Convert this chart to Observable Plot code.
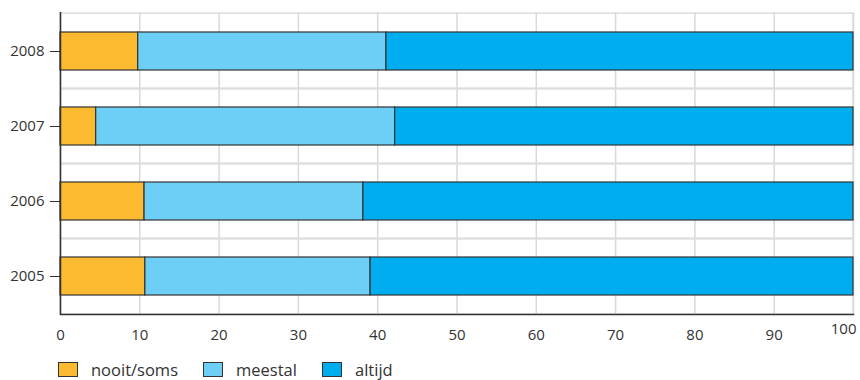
<!DOCTYPE html>
<html><head><meta charset="utf-8">
<script src="https://cdn.jsdelivr.net/npm/d3@7"></script>
<script src="https://cdn.jsdelivr.net/npm/@observablehq/plot@0.6"></script>
<style>
body{margin:0;background:#fff;font-family:"Open Sans",Lato,sans-serif;color:#333;}
#chart svg{overflow:visible;}
.legend{position:relative;height:24px;margin-top:8px;font-size:16.5px;color:#333;}
.legend .item{position:absolute;top:0;display:flex;align-items:center;}
.legend .sw{width:18px;height:13px;border:1px solid #333;margin-right:13px;}
</style></head>
<body>
<div id="chart"></div>
<div class="legend" id="legend"></div>
<script>
const years = ["2008","2007","2006","2005"];
const series = ["nooit/soms","meestal","altijd"];
const colors = ["#fbba30","#6dcff6","#00aeef"];
const nooit = [9.8, 4.5, 10.6, 10.7];
const meestal = [31.3, 37.7, 27.6, 28.4];
const altijd = [58.9, 57.8, 61.8, 60.9];
const xTicks = [0,10,20,30,40,50,60,70,80,90,100];

const data = [];
years.forEach((y,i)=>{
  data.push({year:y, cat:series[0], value:nooit[i]});
  data.push({year:y, cat:series[1], value:meestal[i]});
  data.push({year:y, cat:series[2], value:altijd[i]});
});

const H = 350, mt = 12, mb = 36;
const step = (H - mt - mb) / years.length;

const plot = Plot.plot({
  width: 860, height: H,
  marginLeft: 60, marginRight: 7, marginTop: mt, marginBottom: mb,
  style: {fontSize: "15px", fontFamily: "'Open Sans', Lato, sans-serif", color: "#333"},
  x: {domain: [0,100]},
  y: {domain: years, paddingInner: 0.5, paddingOuter: 0.25, align: 0.5},
  color: {domain: series, range: colors},
  marks: [
    Plot.gridX(xTicks, {stroke: "#d9d9d9", strokeOpacity: 1, strokeWidth: 1.5}),
    Plot.barX(years, {y: d=>d, x1: 0, x2: 100, fill: "none", stroke: "#dcdcdc", strokeWidth: 1.5, insetTop: -step*0.25, insetBottom: -step*0.25}),
    Plot.barX(data, Plot.stackX({y: "year", x: "value", fill: "cat", stroke: "#333", strokeWidth: 1.2, order: series})),
    Plot.ruleX([0], {stroke: "#333", strokeWidth: 1.5}),
    Plot.frame({anchor: "bottom", stroke: "#333", strokeWidth: 1.5}),
    Plot.axisX(xTicks.slice(0, -1), {tickSize: 0, tickPadding: 15, label: null, fill: "#333"}),
    Plot.text(xTicks.slice(-1), {x: d=>d, frameAnchor: "bottom", dy: 19, dx: 3, textAnchor: "end", fill: "#333"}),
    Plot.axisY({tickSize: 10, tickPadding: 6, label: null, stroke: "#333", fill: "#333"})
  ]
});
document.getElementById("chart").appendChild(plot);

const lg = document.getElementById("legend");
const lefts = [58, 203, 322];
series.forEach((s,i)=>{
  const it = document.createElement("div"); it.className="item"; it.style.left = lefts[i] + "px";
  const sw = document.createElement("div"); sw.className="sw"; sw.style.background=colors[i];
  const t = document.createElement("span"); t.textContent = s;
  it.appendChild(sw); it.appendChild(t); lg.appendChild(it);
});
</script>
</body></html>
